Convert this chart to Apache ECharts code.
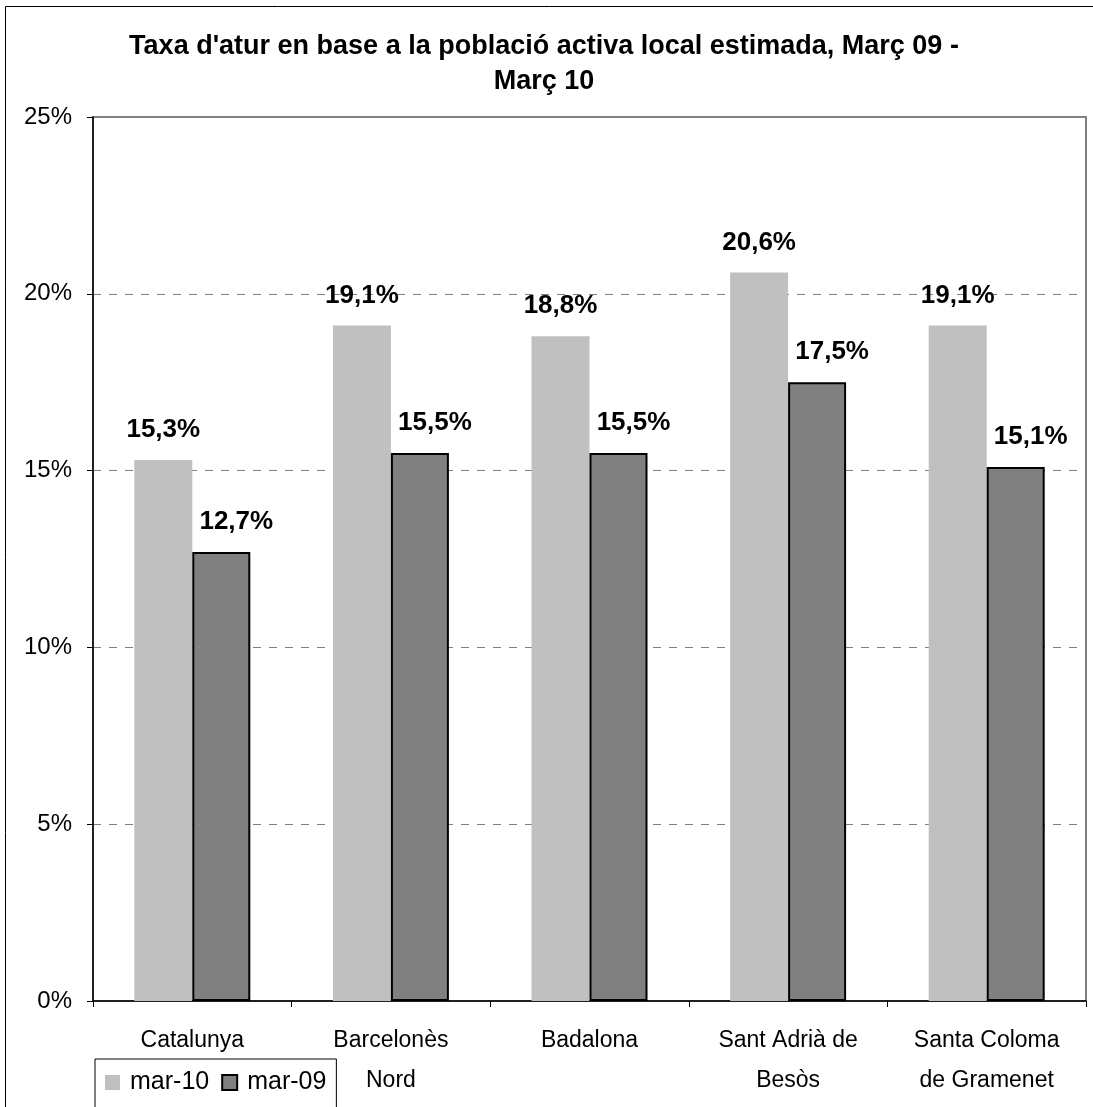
<!DOCTYPE html>
<html>
<head>
<meta charset="utf-8">
<script src="https://cdn.jsdelivr.net/npm/echarts@6/dist/echarts.min.js"></script>
<style>html,body{margin:0;padding:0;background:#fff}#c{width:1093px;height:1107px}</style>
</head>
<body>
<div id="c"></div>
<script>
const categories = ['Catalunya', 'Barcelonès\nNord', 'Badalona', 'Sant Adrià de\nBesòs', 'Santa Coloma\nde Gramenet'];
const mar10 = [15.3, 19.1, 18.8, 20.6, 19.1];
const mar09 = [12.7, 15.5, 15.5, 17.5, 15.1];
const yTicks = [0, 5, 10, 15, 20, 25];
const titleText = "Taxa d'atur en base a la població activa local estimada, Març 09 -\nMarç 10";

const FONT = '"Liberation Sans", Arial, sans-serif';
const chart = echarts.init(document.getElementById('c'), null, {renderer: 'canvas'});
const fmt = v => v.toFixed(1).replace('.', ',') + '%';

chart.setOption({
  animation: false,
  backgroundColor: '#fff',
  graphic: [{
    type: 'rect', shape: {x: 5.5, y: 6.5, width: 1200, height: 1200},
    style: {fill: 'none', stroke: '#000', lineWidth: 1}, z: -10, silent: true
  }],
  title: {
    text: titleText,
    left: 539, top: 24, textAlign: 'center',
    textStyle: {fontFamily: FONT, fontWeight: 'bold', fontSize: 27, color: '#000', lineHeight: 35}
  },
  legend: {
    left: 95, top: 1059,
    padding: [11, 10, 30, 10],
    borderColor: '#000', borderWidth: 1,
    itemWidth: 15, itemHeight: 15, itemGap: 12,
    icon: 'rect',
    textStyle: {fontFamily: FONT, fontSize: 25, color: '#000', padding: [0, 0, 0, 5]},
    data: ['mar-10', 'mar-09']
  },
  grid: {
    left: 93, right: 7, top: 117, bottom: 106,
    show: true, borderColor: '#808080', borderWidth: 2, containLabel: false
  },
  xAxis: {
    type: 'category', data: categories,
    axisLine: {lineStyle: {color: '#000', width: 1.5}},
    axisTick: {show: true, length: 6, inside: false, lineStyle: {color: '#000'}},
    axisLabel: {fontFamily: FONT, fontSize: 23, color: '#000', margin: 20, lineHeight: 40}
  },
  yAxis: {
    type: 'value', min: 0, max: 25, interval: 5,
    axisLine: {show: true, lineStyle: {color: '#000', width: 1.5}},
    axisTick: {show: true, length: 6, lineStyle: {color: '#000'}},
    axisLabel: {fontFamily: FONT, fontSize: 24, color: '#000', margin: 21,
      formatter: v => yTicks.includes(v) ? v + '%' : ''},
    splitLine: {show: true, lineStyle: {color: '#808080', type: [8, 8], width: 1}}
  },
  series: [{
    name: 'mar-10', type: 'bar', data: mar10,
    barWidth: 58, barGap: '0%',
    itemStyle: {color: '#C0C0C0'},
    label: {show: true, position: 'top', distance: 17, formatter: p => fmt(p.value),
      fontFamily: FONT, fontWeight: 'bold', fontSize: 26, color: '#000'}
  }, {
    name: 'mar-09', type: 'bar', data: mar09,
    barWidth: 58,
    itemStyle: {color: '#808080', borderColor: '#000', borderWidth: 2},
    label: {show: true, position: 'top', distance: 17, offset: [15, 0], formatter: p => fmt(p.value),
      fontFamily: FONT, fontWeight: 'bold', fontSize: 26, color: '#000'}
  }]
});
</script>
</body>
</html>
